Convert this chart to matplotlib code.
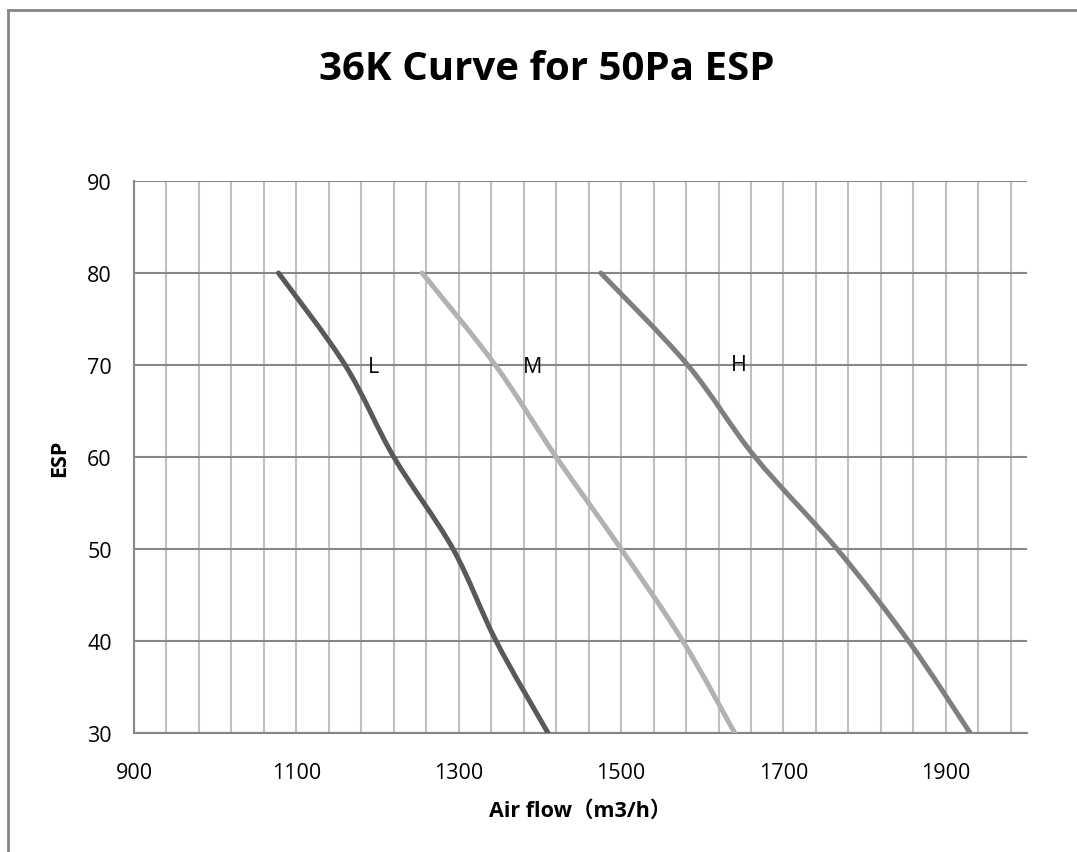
import numpy as np
import matplotlib
matplotlib.use("Agg")
import matplotlib.pyplot as plt
from matplotlib.path import Path
from matplotlib.patches import PathPatch
from matplotlib.lines import Line2D

# ---- data ----
esp = [80, 70, 60, 50, 40, 30]
flow_L = [1078, 1160, 1220, 1293, 1346, 1410]
flow_M = [1255, 1345, 1420, 1500, 1576, 1640]
flow_H = [1475, 1582, 1665, 1766, 1854, 1930]
series_names = ["L", "M", "H"]
title = "36K Curve for 50Pa ESP"
xlabel = "Air flow（m3/h）"
ylabel = "ESP"
xticks = [900, 1100, 1300, 1500, 1700, 1900]
yticks = [30, 40, 50, 60, 70, 80, 90]

colors = ["#595959", "#b2b2b2", "#7f7f7f"]

plt.rcParams['font.family'] = ['Open Sans', 'Noto Sans CJK SC', 'DejaVu Sans']

fig = plt.figure(figsize=(10.77, 8.53), dpi=100)
ax = fig.add_axes([134/1077, 1-734/853, (1027-134)/1077, (734-182)/853])
ax.set_xlim(900, 2000)
ax.set_ylim(30, 90)

# grid
for xv in np.arange(900, 2000, 40):
    ax.axvline(xv, color="#c0c0c0", lw=1.5, zorder=1)
for yv in yticks:
    ax.axhline(yv, color="#878787", lw=1.5, zorder=1.5)

for s in ["top", "right"]:
    ax.spines[s].set_visible(False)
for s in ["left", "bottom"]:
    ax.spines[s].set_color("#878787")
    ax.spines[s].set_linewidth(1.5)
ax.set_xticks(xticks)
ax.set_yticks(yticks)
ax.tick_params(length=0, labelsize=15.5)
ax.tick_params(axis='y', pad=16)
ax.tick_params(axis='x', pad=21)


def smooth_path(xs, ys):
    pts = np.column_stack([xs, ys]).astype(float)
    n = len(pts)
    verts = [pts[0]]
    codes = [Path.MOVETO]
    for i in range(n - 1):
        p0 = pts[i - 1] if i > 0 else pts[i]
        p1 = pts[i]
        p2 = pts[i + 1]
        p3 = pts[i + 2] if i + 2 < n else pts[i + 1]
        c1 = p1 + (p2 - p0) / 6.0
        c2 = p2 - (p3 - p1) / 6.0
        verts += [c1, c2, p2]
        codes += [Path.CURVE4] * 3
    return Path(verts, codes)


for flows, c in zip([flow_L, flow_M, flow_H], colors):
    patch = PathPatch(smooth_path(flows, esp), facecolor="none", edgecolor=c,
                      lw=3.6, capstyle="round", joinstyle="round", zorder=3)
    ax.add_patch(patch)

# data labels at the ESP=70 point
label_dx = [28, 37, 51]
label_dy = [-2, -2, 1]
for name, flows, dx, dy in zip(series_names, [flow_L, flow_M, flow_H], label_dx, label_dy):
    ax.annotate(name, xy=(flows[1], esp[1]), xytext=(dx / 1.389, dy / 1.389),
                textcoords="offset points", ha="center", va="center",
                fontsize=15.5, color="black", zorder=4)

ax.set_xlabel(xlabel, fontsize=15.5, fontweight="bold", labelpad=12)
ax.set_ylabel(ylabel, fontsize=15.5, fontweight="bold", labelpad=12)

fig.text(547/1077, 1-70/853, title, ha="center", va="center",
         fontsize=29, fontweight="bold")

# outer chart border (left and top visible)
fig.add_artist(Line2D([7.5/1077, 7.5/1077], [0, 1-11/853], color="#868686", lw=2,
                      transform=fig.transFigure))
fig.add_artist(Line2D([7.5/1077, 1], [1-11/853, 1-11/853], color="#868686", lw=2,
                      transform=fig.transFigure))

fig.savefig("out.png", dpi=100)
